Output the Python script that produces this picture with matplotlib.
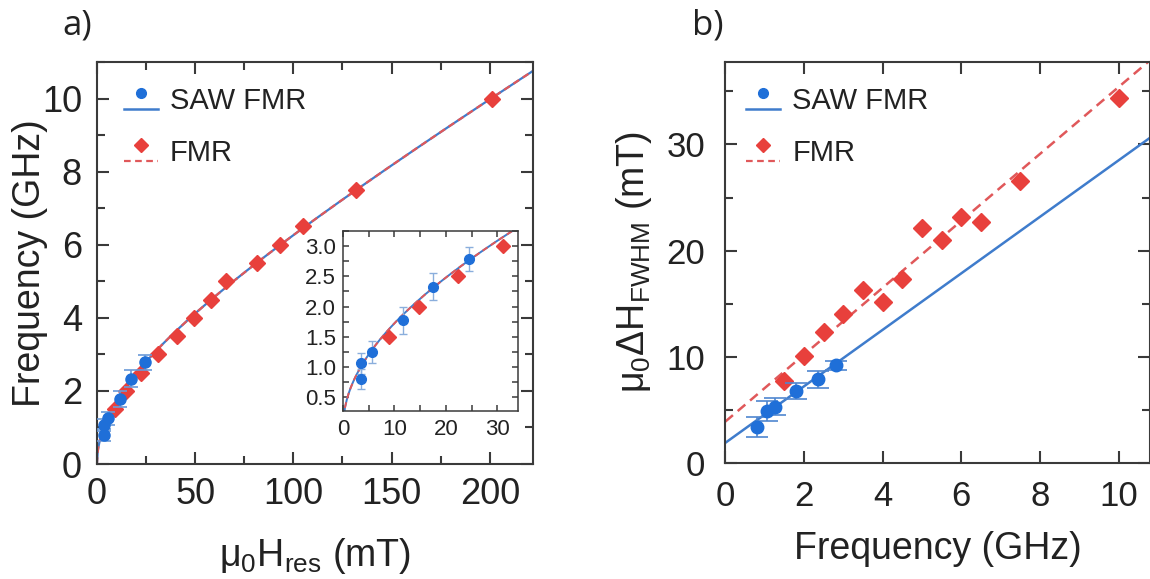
import numpy as np
import matplotlib
matplotlib.use("Agg")
import matplotlib.pyplot as plt
from matplotlib.ticker import MultipleLocator

plt.rcParams['font.family'] = ['Liberation Sans', 'DejaVu Sans']
plt.rcParams['mathtext.default'] = 'regular'

# ---------------- data: panel a ----------------
saw_H = [3.4, 3.5, 5.6, 11.7, 17.5, 24.5]
saw_f = [0.80, 1.06, 1.25, 1.77, 2.33, 2.78]
saw_f_err = [0.17, 0.17, 0.18, 0.22, 0.23, 0.20]

fmr_H = [9.0, 14.8, 22.3, 31.0, 40.8, 49.6, 58.0, 65.9, 81.4, 93.0, 104.7, 131.8, 201.0]
fmr_f = [1.5, 2.0, 2.5, 3.0, 3.5, 4.0, 4.5, 5.0, 5.5, 6.0, 6.5, 7.5, 10.0]

# ---------------- data: panel b ----------------
saw_freq = [0.80, 1.07, 1.26, 1.79, 2.36, 2.82]
saw_dH = [3.4, 4.9, 5.3, 6.8, 7.9, 9.2]
saw_dH_err = [0.95, 0.9, 0.8, 0.75, 0.8, 0.4]

fmr_freq = [1.5, 2.0, 2.5, 3.0, 3.5, 4.0, 4.5, 5.0, 5.5, 6.0, 6.5, 7.5, 10.0]
fmr_dH = [7.7, 10.1, 12.3, 14.0, 16.3, 15.2, 17.3, 22.1, 21.0, 23.2, 22.7, 26.6, 34.4]

# linear fits: (intercept, slope)
saw_fit_b = (1.9, 2.66)
fmr_fit_b = (3.9, 3.15)

BLUE = '#1f6fd8'
RED = '#e8403c'
BLUE_LINE = '#3f7ccc'
RED_LINE = '#e0585a'
TXT = '#222222'
SPINE = '#3a3a3a'

fig = plt.figure(figsize=(11.5, 5.79), dpi=100)

def style_axes(ax, labelsize, xpad, ypad, major=8.5, minor=6, width=1.5):
    for s in ax.spines.values():
        s.set_color(SPINE)
        s.set_linewidth(width)
    ax.tick_params(which='both', direction='in', top=True, right=True,
                   colors=SPINE, labelcolor=TXT, labelsize=labelsize,
                   width=width)
    ax.tick_params(which='major', length=major)
    ax.tick_params(which='minor', length=minor)
    ax.tick_params(axis='x', which='major', pad=xpad)
    ax.tick_params(axis='y', which='major', pad=ypad)

# ---------------- panel a ----------------
axa = fig.add_axes([0.0843, 0.1986, 0.3792, 0.6943])
# Kittel-type fit from all data: f^2 = c2 H^2 + c1 H
H_all = np.array(saw_H + fmr_H)
f_all = np.array(saw_f + fmr_f)
A = np.vstack([H_all**2, H_all]).T
c2, c1 = np.linalg.lstsq(A, f_all**2, rcond=None)[0]
Hc = np.linspace(0, 222, 600)
fc = np.sqrt(np.clip(c2 * Hc**2 + c1 * Hc, 0, None))

axa.plot(Hc, fc, color=BLUE_LINE, lw=1.6, zorder=2)
axa.plot(Hc, fc, color=RED_LINE, lw=1.6, ls=(0, (3, 2)), zorder=2)
axa.errorbar(saw_H, saw_f, yerr=saw_f_err, fmt='o', color=BLUE, ms=8,
             ecolor='#6a9ad8', elinewidth=1.2, capsize=5, capthick=1.2, zorder=4)
axa.plot(fmr_H, fmr_f, 'D', color=RED, ms=8, zorder=3, lw=0)
axa.set_xlim(0, 222)
axa.set_ylim(0, 11)
axa.xaxis.set_major_locator(MultipleLocator(50))
axa.xaxis.set_minor_locator(MultipleLocator(25))
axa.yaxis.set_major_locator(MultipleLocator(2))
axa.yaxis.set_minor_locator(MultipleLocator(1))
style_axes(axa, 26, xpad=9.5, ypad=10.8)
axa.set_xlabel('μ$_0$H$_{res}$ (mT)', fontsize=27, color=TXT)
axa.set_ylabel('Frequency (GHz)', fontsize=27, color=TXT)
axa.yaxis.set_label_coords(-0.112, 0.5)
axa.xaxis.set_label_coords(0.5, -0.18)

def manual_legend(ax, x0, y_top, dx_text):
    t = ax.transAxes
    ax.plot([x0], [y_top], 'o', color=BLUE, ms=7, transform=t, clip_on=False)
    ax.plot([x0 - 0.04, x0 + 0.04], [y_top - 0.04, y_top - 0.04], color=BLUE_LINE, lw=1.8, transform=t)
    ax.text(x0 + dx_text, y_top - 0.02, 'SAW FMR', transform=t, fontsize=21, color=TXT, va='center')
    ax.plot([x0], [y_top - 0.13], 'D', color=RED, ms=7, transform=t)
    ax.plot([x0 - 0.04, x0 + 0.04], [y_top - 0.17, y_top - 0.17], color=RED_LINE, lw=1.6, ls=(0, (3, 2)), transform=t)
    ax.text(x0 + dx_text, y_top - 0.15, 'FMR', transform=t, fontsize=21, color=TXT, va='center')

manual_legend(axa, 44 / 436, 1 - (93 - 62) / 402, 73 / 436 - 44 / 436)

# inset
axi = fig.add_axes([0.2983, 0.2902, 0.1521, 0.3108])
axi.plot(Hc, fc, color=BLUE_LINE, lw=1.4, zorder=2)
axi.plot(Hc, fc, color=RED_LINE, lw=1.4, ls=(0, (3, 2)), zorder=2)
axi.errorbar(saw_H, saw_f, yerr=saw_f_err, fmt='o', color=BLUE, ms=7,
             ecolor='#8aaedc', elinewidth=1.0, capsize=3, capthick=1.0, zorder=4)
axi.plot(fmr_H, fmr_f, 'D', color=RED, ms=7, zorder=3, lw=0)
axi.set_xlim(0, 34)
axi.set_ylim(0.27, 3.25)
axi.xaxis.set_major_locator(MultipleLocator(10))
axi.xaxis.set_minor_locator(MultipleLocator(5))
axi.yaxis.set_minor_locator(MultipleLocator(0.25))
axi.set_yticks([0.5, 1.0, 1.5, 2.0, 2.5, 3.0])
axi.set_yticklabels(['0.5', '1.0', '1.5', '2.0', '2.5', '3.0'])
style_axes(axi, 16, xpad=6, ypad=5, major=4, minor=4, width=1.1)

# ---------------- panel b ----------------
axb = fig.add_axes([0.6307, 0.2003, 0.3693, 0.6933])
axb.axline((0, saw_fit_b[0]), slope=saw_fit_b[1], color=BLUE_LINE, lw=1.8, zorder=2)
axb.axline((0, fmr_fit_b[0]), slope=fmr_fit_b[1], color=RED_LINE, lw=1.8,
           ls=(0, (4, 2.5)), zorder=2)
axb.errorbar(saw_freq, saw_dH, yerr=saw_dH_err, fmt='o', color=BLUE, ms=9,
             ecolor='#4f86cf', elinewidth=1.2, capsize=8, capthick=1.2, zorder=4)
axb.plot(fmr_freq, fmr_dH, 'D', color=RED, ms=9, zorder=3, lw=0)
axb.set_xlim(0, 10.8)
axb.set_ylim(0, 37.8)
axb.xaxis.set_major_locator(MultipleLocator(2))
axb.yaxis.set_major_locator(MultipleLocator(10))
axb.yaxis.set_minor_locator(MultipleLocator(5))
style_axes(axb, 25, xpad=12, ypad=14.5)
axb.set_xlabel('Frequency (GHz)', fontsize=27, color=TXT)
axb.set_ylabel('μ$_0$ΔH$_{FWHM}$ (mT)', fontsize=27, color=TXT)
axb.yaxis.set_label_coords(-0.168, 0.5)
axb.xaxis.set_label_coords(0.5, -0.17)
manual_legend(axb, 38 / 424, 1 - (93 - 62) / 402, 67 / 424 - 38 / 424)

# panel labels
fig.text(62 / 1150, 1 - 26 / 579, 'a)', fontsize=25, family='Open Sans', color=TXT, va='center')
fig.text(692 / 1150, 1 - 26 / 579, 'b)', fontsize=25, family='Open Sans', color=TXT, va='center')

fig.savefig('out.png', dpi=100)
